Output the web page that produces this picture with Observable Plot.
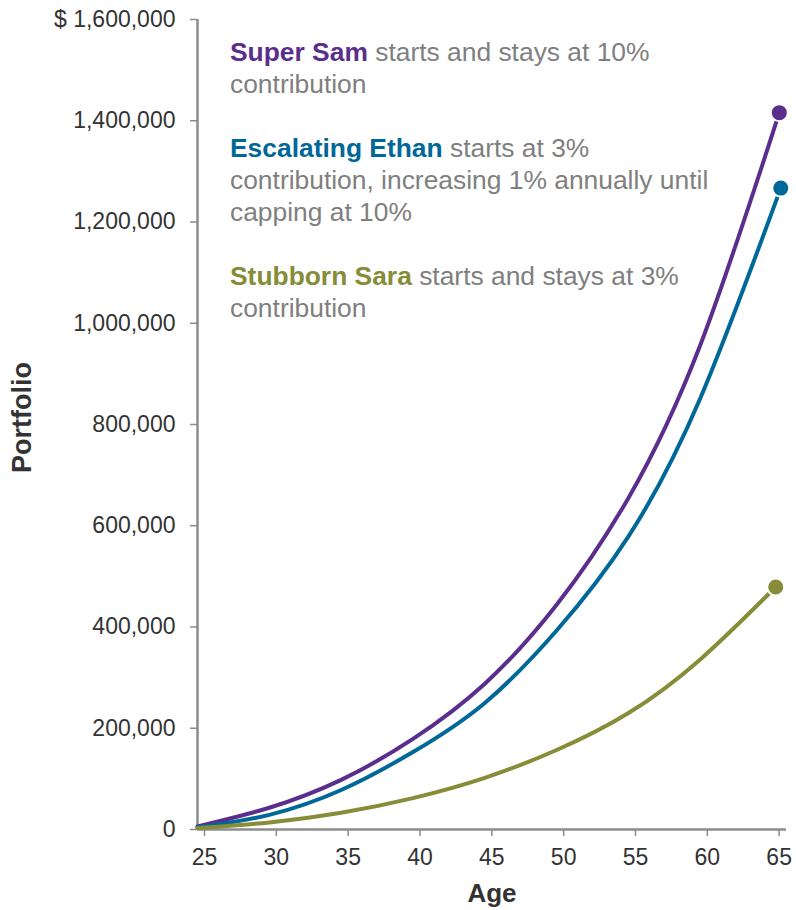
<!DOCTYPE html>
<html>
<head>
<meta charset="utf-8">
<script src="https://cdn.jsdelivr.net/npm/d3@7"></script>
<script src="https://cdn.jsdelivr.net/npm/@observablehq/plot@0.6"></script>
<style>
  html, body { margin: 0; padding: 0; background: #fff; }
  #wrap { position: relative; width: 796px; height: 910px; font-family: "Liberation Sans", Arial, sans-serif; }
  #legend { position: absolute; left: 230px; top: 36px; font-size: 26.4px; line-height: 32px; color: #7f7f7f; }
  #legend .blk { margin-bottom: 32px; }
  #legend b { font-weight: bold; }
</style>
</head>
<body>
<div id="wrap">
  <div id="chart"></div>
  <div id="legend"></div>
</div>
<script>
// ---- data ----
const seriesNames = ["Super Sam", "Escalating Ethan", "Stubborn Sara"];
const seriesColors = ["#5b2d8c", "#006898", "#868c38"];
const samAges = [25, 30, 35, 40, 45, 50, 55, 60, 65.5];
const samValues = [6000, 43000, 98000, 179000, 288000, 444000, 655000, 957000, 1416000];
const ethanAges = [25, 30, 35, 40, 45, 50, 55, 60, 65.6];
const ethanValues = [4000, 29000, 78000, 153000, 250000, 393000, 579000, 852000, 1267000];
const saraAges = [25, 30, 35, 40, 45, 50, 55, 60, 65.25];
const saraValues = [3000, 14000, 33000, 62000, 102000, 157000, 230000, 336000, 479000];
const xTicks = [25, 30, 35, 40, 45, 50, 55, 60, 65];
const yTicks = [0, 200000, 400000, 600000, 800000, 1000000, 1200000, 1400000, 1600000];
const legendTexts = [
  ["Super Sam", " starts and stays at 10%", "contribution"],
  ["Escalating Ethan", " starts at 3%", "contribution, increasing 1% annually until", "capping at 10%"],
  ["Stubborn Sara", " starts and stays at 3%", "contribution"]
];
const xLabel = "Age";
const yLabel = "Portfolio";

// ---- build table ----
const rows = [];
[[samAges, samValues], [ethanAges, ethanValues], [saraAges, saraValues]].forEach(([a, v], i) => {
  a.forEach((age, j) => rows.push({series: seriesNames[i], age, value: v[j]}));
});

const fmt = d3.format(",");
const axisColor = "#8c8c8c";

const chart = Plot.plot({
  width: 796,
  height: 910,
  marginLeft: 197,
  marginRight: 10,
  marginTop: 19,
  marginBottom: 81,
  style: {fontFamily: "Liberation Sans, Arial, sans-serif", fontSize: "23px", color: "#333", background: "#fff"},
  x: {domain: [25, 66]},
  y: {domain: [0, 1600000]},
  color: {domain: seriesNames, range: seriesColors},
  marks: [
    Plot.axisX({ticks: xTicks, tickSize: 7, tickPadding: 12, dx: 7, tickFormat: d => d, label: null, stroke: axisColor, strokeWidth: 1.5, fill: "#333"}),
    Plot.axisY({ticks: yTicks, tickSize: 7, tickPadding: 15, label: null, stroke: axisColor, strokeWidth: 1.5, fill: "#333",
      tickFormat: d => d === 1600000 ? "$ " + fmt(d) : fmt(d)}),
    Plot.ruleY([0], {stroke: axisColor, strokeWidth: 2.5}),
    Plot.ruleX([25], {stroke: axisColor, strokeWidth: 2.5}),
    Plot.line(rows, {x: "age", y: "value", z: "series", stroke: "series", strokeWidth: 4, curve: "natural"}),
    Plot.dot(rows, Plot.selectLast({x: "age", y: "value", z: "series", fill: "series", r: 8.5, stroke: "#fff", strokeWidth: 2})),
    Plot.text([xLabel], {frameAnchor: "bottom", dy: 64, text: d => d, fontSize: 26, fontWeight: "bold", fill: "#333", lineAnchor: "middle"}),
    Plot.text([yLabel], {frameAnchor: "left", dx: -175, dy: -7, rotate: -90, text: d => d, fontSize: 27, fontWeight: "bold", fill: "#333", lineAnchor: "middle", textAnchor: "middle"})
  ]
});
document.getElementById("chart").appendChild(chart);

// ---- legend text ----
const legend = document.getElementById("legend");
legendTexts.forEach((t, i) => {
  const blk = document.createElement("div");
  blk.className = "blk";
  const b = document.createElement("b");
  b.textContent = t[0];
  b.style.color = seriesColors[i];
  blk.appendChild(b);
  blk.appendChild(document.createTextNode(t[1]));
  t.slice(2).forEach(line => {
    blk.appendChild(document.createElement("br"));
    blk.appendChild(document.createTextNode(line));
  });
  legend.appendChild(blk);
});
</script>
</body>
</html>
